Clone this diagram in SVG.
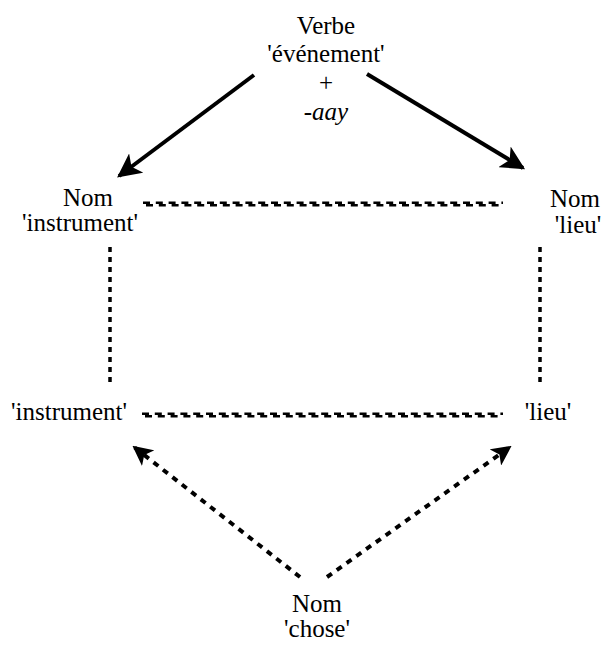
<svg xmlns="http://www.w3.org/2000/svg" width="606" height="653" viewBox="0 0 606 653">
<style>
.solid{stroke:#000;stroke-width:4;fill:none}
.dash{stroke:#000;stroke-width:4;fill:none;stroke-dasharray:6 6}
.dot{stroke:#000;stroke-width:3.5;fill:none;stroke-dasharray:5 5}
.h{stroke:#000;stroke-width:2.5;fill:none;stroke-dasharray:7 5.8}
</style>
<defs>
<marker id="ah" viewBox="0 0 10 10" refX="9" refY="5" markerWidth="6" markerHeight="6" markerUnits="strokeWidth" orient="auto">
<path d="M0,0 L10,5 L0,10 L2.5,5 z" fill="#000"/>
</marker>
<marker id="ah2" viewBox="0 0 10 10" refX="9" refY="5" markerWidth="5" markerHeight="5" markerUnits="strokeWidth" orient="auto">
<path d="M0,0 L10,5 L0,10 L2.5,5 z" fill="#000"/>
</marker>
</defs>
<g id="connectors">
<line class="solid" x1="254" y1="75" x2="119" y2="176" marker-end="url(#ah)"/>
<line class="solid" x1="367" y1="74" x2="523" y2="168" marker-end="url(#ah)"/>
<line class="dash" x1="300" y1="577" x2="134" y2="447" marker-end="url(#ah2)"/>
<line class="dash" x1="327" y1="577" x2="510" y2="447" marker-end="url(#ah2)"/>
<line class="dot" x1="110" y1="247" x2="110" y2="383"/>
<line class="dot" x1="540" y1="247" x2="540" y2="383"/>
<line class="h" x1="143" y1="202.8" x2="503" y2="202.8"/>
<line class="h" x1="146" y1="205.2" x2="503" y2="205.2"/>
<line class="h" x1="142" y1="413.8" x2="503" y2="413.8"/>
<line class="h" x1="145" y1="416.2" x2="503" y2="416.2"/>
</g>
<g font-family="'Liberation Serif', 'Times New Roman', serif" font-size="25" fill="#000" text-anchor="middle">
<g id="verbe">
<text x="326" y="34">Verbe</text>
<text x="326" y="62">'événement'</text>
<text x="326" y="91">+</text>
<text x="326" y="120">-<tspan font-style="italic">aay</tspan></text>
</g>
<g id="nom-instrument">
<text x="88" y="206">Nom</text>
<text x="80" y="231">'instrument'</text>
</g>
<g id="nom-lieu">
<text x="575" y="207">Nom</text>
<text x="578" y="233">'lieu'</text>
</g>
<g id="instrument">
<text x="69" y="420">'instrument'</text>
</g>
<g id="lieu">
<text x="548" y="420">'lieu'</text>
</g>
<g id="nom-chose">
<text x="317" y="612">Nom</text>
<text x="317" y="637">'chose'</text>
</g>
</g>
</svg>
